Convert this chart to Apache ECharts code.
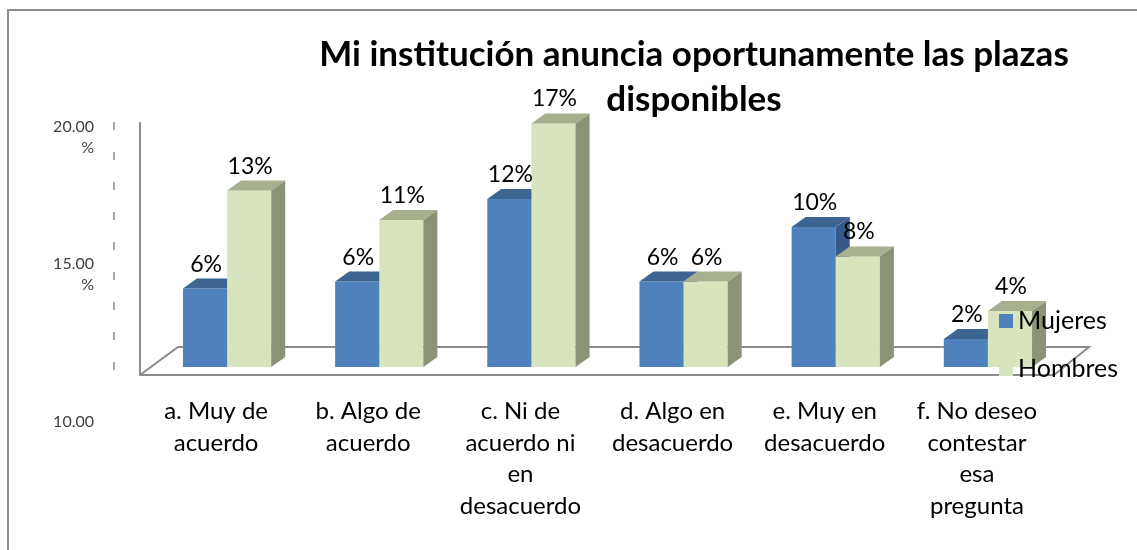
<!DOCTYPE html>
<html>
<head>
<meta charset="utf-8">
<script src="https://cdn.jsdelivr.net/npm/echarts@6/dist/echarts.min.js"></script>
<style>
html,body{margin:0;padding:0;background:#fff;}
#chart{width:1137px;height:550px;}
</style>
</head>
<body>
<div id="chart"></div>
<script>
const categories = [
  'a. Muy de\nacuerdo',
  'b. Algo de\nacuerdo',
  'c. Ni de\nacuerdo ni\nen\ndesacuerdo',
  'd. Algo en\ndesacuerdo',
  'e. Muy en\ndesacuerdo',
  'f. No deseo\ncontestar\nesa\npregunta'
];
const seriesNames = ['Mujeres', 'Hombres'];
const mujeres = [5.6, 6.1, 12.0, 6.1, 10.0, 2.0];
const hombres = [12.6, 10.5, 17.4, 6.1, 7.9, 4.0];
const scaleMin = 10, scaleMax = 20, scaleStep = 5;
const titleText = 'Mi institución anuncia oportunamente las plazas\ndisponibles';

const FONT = 'Lato';
const faceColors = [
  { front: '#4F81BD', top: '#3D6592', side: '#36598A' },
  { front: '#D7E4BD', top: '#A6B08F', side: '#8A9277' }
];
const DX = 11, DY = -8;      // bar position inside floor depth
const DEPTH_X = 14, DEPTH_Y = -10; // bar depth

function renderBar(params, api) {
  const idx = api.value(0), val = api.value(1);
  const s = params.seriesIndex;
  const base = api.coord([idx, 0]);
  const topP = api.coord([idx, val]);
  const band = api.size([1, 0])[0];
  const bw = band * 0.29;
  const x0 = base[0] - bw + s * bw + DX;
  const x1 = x0 + bw;
  const yb = base[1] + DY;
  const yt = topP[1] + DY;
  const c = faceColors[s];
  const lbl = Math.round(val) + '%';
  return {
    type: 'group',
    children: [
      { type: 'rect', shape: { x: x0, y: yt, width: bw, height: yb - yt },
        style: { fill: c.front } },
      { type: 'polygon', shape: { points: [[x1, yt], [x1 + DEPTH_X, yt + DEPTH_Y], [x1 + DEPTH_X, yb + DEPTH_Y], [x1, yb]] },
        style: { fill: c.side } },
      { type: 'polygon', shape: { points: [[x0, yt], [x1, yt], [x1 + DEPTH_X, yt + DEPTH_Y], [x0 + DEPTH_X, yt + DEPTH_Y]] },
        style: { fill: c.top } },
      { type: 'text', z2: 100,
        style: { text: lbl, x: (x0 + x1) / 2 + 1, y: yt - 13, align: 'center', verticalAlign: 'bottom',
                 font: '23px ' + FONT, fill: '#000' } }
    ]
  };
}

const chart = echarts.init(document.getElementById('chart'), null, { renderer: 'canvas' });
chart.setOption({
  animation: false,
  color: [faceColors[0].front, faceColors[1].front],
  textStyle: { fontFamily: FONT },
  title: {
    text: titleText,
    left: 694, top: 32, padding: 0, textAlign: 'center',
    textStyle: { fontSize: 35, fontWeight: 'bold', color: '#000', lineHeight: 45, fontFamily: FONT }
  },
  legend: {
    orient: 'vertical', left: 994, top: 303, itemGap: 22, padding: 5,
    itemWidth: 14, itemHeight: 14, icon: 'rect',
    data: seriesNames,
    textStyle: { fontSize: 25, color: '#000', lineHeight: 26, fontFamily: FONT }
  },
  grid: [
    { left: 140, right: 84, top: 123, bottom: 175 },
    { left: 114, width: 1, top: 137, bottom: 139 }
  ],
  xAxis: [
    { type: 'category', gridIndex: 0, data: categories,
      axisLine: { show: true, lineStyle: { color: '#8c8c8c', width: 2 } },
      axisTick: { show: false },
      axisLabel: { fontSize: 24, color: '#000', lineHeight: 31.5, margin: 21, interval: 0, fontFamily: FONT } },
    { type: 'value', gridIndex: 1, show: false }
  ],
  yAxis: [
    { type: 'value', gridIndex: 0, min: 0, max: 18,
      axisLine: { show: true, lineStyle: { color: '#8c8c8c', width: 2 } },
      axisTick: { show: false }, axisLabel: { show: false }, splitLine: { show: false } },
    { type: 'value', gridIndex: 1, min: scaleMin, max: scaleMax, interval: scaleStep,
      axisLine: { show: false }, axisTick: { show: false }, splitLine: { show: false },
      axisLabel: {
        margin: 20, align: 'right', fontSize: 16, lineHeight: 21, color: '#404040', fontFamily: FONT,
        formatter: function (v) {
          return v === scaleMin ? '{low|' + v.toFixed(2) + '}' : v.toFixed(2) + '\n%';
        },
        rich: { low: { fontSize: 16, lineHeight: 21, padding: [22, 0, 0, 0], color: '#404040', fontFamily: FONT } }
      } }
  ],
  graphic: [
    { type: 'rect', z: -10, shape: { x: 8, y: 10, width: 1300, height: 700 },
      style: { fill: '#fff', stroke: '#8c8c8c', lineWidth: 2 } },
    { type: 'polyline', z: 0, shape: { points: [[140, 375], [178, 347], [1089, 347], [1054, 375]] },
      style: { stroke: '#8c8c8c', lineWidth: 2, fill: null } },
    { type: 'line', z: 0, shape: { x1: 114, y1: 122, x2: 114, y2: 378 },
      style: { stroke: '#8c8c8c', lineWidth: 1.5, lineDash: [8, 22] } }
  ],
  series: [
    { name: seriesNames[0], type: 'custom', xAxisIndex: 0, yAxisIndex: 0,
      renderItem: renderBar, itemStyle: { color: faceColors[0].front },
      data: mujeres.map((v, i) => [i, v]) },
    { name: seriesNames[1], type: 'custom', xAxisIndex: 0, yAxisIndex: 0,
      renderItem: renderBar, itemStyle: { color: faceColors[1].front },
      data: hombres.map((v, i) => [i, v]) }
  ]
});
</script>
</body>
</html>
